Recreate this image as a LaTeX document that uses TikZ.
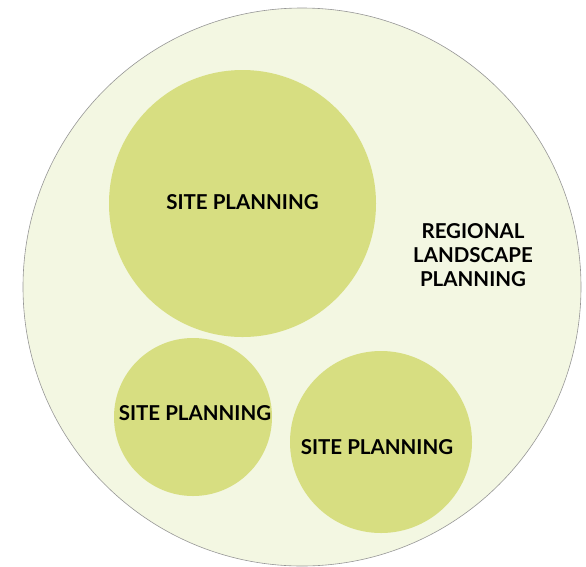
\documentclass[tikz,border=0pt]{standalone}
\usepackage{fontspec}
\setmainfont{Lato}
\usepackage{xcolor}
\usepackage{tikz}
\definecolor{regionfill}{RGB}{243,247,226}
\definecolor{regionline}{RGB}{150,150,150}
\definecolor{sitefill}{RGB}{215,222,129}

\begin{document}
\begin{tikzpicture}[x=1pt,y=-1pt,
    region/.style={circle,draw=regionline,line width=0.6pt,fill=regionfill,inner sep=0pt},
    site/.style={circle,fill=sitefill,inner sep=0pt},
    lbl/.style={align=center,font=\fontsize{20.5}{24}\selectfont\bfseries}]
  \useasboundingbox (0,0) rectangle (586,566);
  % outer region
  \node[region,minimum size=558pt] (reg) at (302,287) {};
  % three sites inside
  \node[site,minimum size=267pt,label={[lbl,yshift=1pt]center:SITE PLANNING}] (s1) at (242.5,203.5) {};
  \node[site,minimum size=158pt,label={[lbl,xshift=2pt,yshift=4pt]center:SITE PLANNING}] (s2) at (193,417) {};
  \node[site,minimum size=182pt,label={[lbl,xshift=-4pt,yshift=-5pt]center:SITE PLANNING}] (s3) at (381,442) {};
  % region label
  \node[lbl] (rl) at (473,255) {REGIONAL\\LANDSCAPE\\PLANNING};
\end{tikzpicture}
\end{document}
